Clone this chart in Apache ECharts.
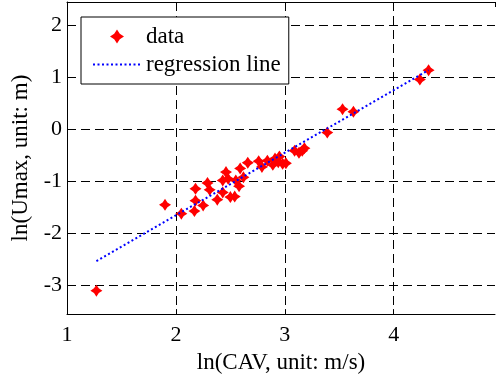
<!DOCTYPE html>
<html><head><meta charset="utf-8">
<script src="https://cdn.jsdelivr.net/npm/echarts@6/dist/echarts.min.js"></script>
<style>html,body{margin:0;padding:0;background:#fff}#c{width:496px;height:379px}</style>
</head><body><div id="c"></div>
<script>
var dataX = [1.27,1.90,2.05,2.17,2.18,2.18,2.25,2.29,2.31,2.38,2.43,2.43,2.46,2.48,2.50,2.54,2.55,2.58,2.59,2.62,2.66,2.76,2.79,2.84,2.89,2.91,2.94,2.95,2.98,3.01,3.09,3.13,3.16,3.18,3.39,3.53,3.63,4.24,4.32];
var dataY = [-3.10,-1.45,-1.62,-1.57,-1.37,-1.14,-1.46,-1.03,-1.16,-1.35,-1.21,-0.98,-0.82,-0.95,-1.30,-1.29,-0.98,-1.09,-0.75,-0.92,-0.64,-0.61,-0.72,-0.60,-0.68,-0.56,-0.63,-0.52,-0.66,-0.65,-0.41,-0.45,-0.41,-0.36,-0.06,0.39,0.34,0.96,1.14];
var regX = [1.27, 4.32];
var regY = [-2.53, 1.14];
var xTicks = ['1','2','3','4'];
var yTicks = ['-3','-2','-1','0','1','2'];

var font = 'Liberation Serif';
var star = 'path://M0,-5 L2,-2 L5,0 L2,2 L0,5 L-2,2 L-5,0 L-2,-2 Z';
var chart = echarts.init(document.getElementById('c'), null, {renderer:'canvas'});
var dash = {color:'#000', type:[9,5], width:1};
chart.setOption({
  animation:false,
  backgroundColor:'#fff',
  grid:{left:67, right:1, top:2, bottom:64, containLabel:false},
  legend:{
    orient:'vertical', left:81, top:17,
    padding:[8,8,8,11], itemGap:5,
    itemWidth:48, itemHeight:14,
    borderColor:'#000', borderWidth:1, backgroundColor:'#fff',
    textStyle:{fontFamily:font, fontSize:23, color:'#000'},
    data:[{name:'data', icon:star, itemStyle:{opacity:1}},{name:'regression line', itemStyle:{opacity:0}}]
  },
  xAxis:[{
    type:'value', min:1, max:4.93,
    name:'ln(CAV, unit: m/s)', nameLocation:'middle', nameGap:34,
    nameTextStyle:{fontFamily:font, fontSize:23, color:'#000'},
    axisLine:{show:true, onZero:false, lineStyle:{color:'#000', width:1}},
    axisTick:{show:true, inside:true, length:5, lineStyle:{color:'#000'}},
    axisLabel:{fontFamily:font, fontSize:22, color:'#000', margin:10, showMaxLabel:false,
      formatter:function(v){var s=String(v); return xTicks.indexOf(s)>=0?s:'';}},
    splitLine:{show:true, showMinLine:false, showMaxLine:false, lineStyle:dash}
  },{
    type:'value', position:'top', min:1, max:4.93,
    axisLine:{show:true, onZero:false, lineStyle:{color:'#000', width:1}},
    axisTick:{show:true, inside:true, length:5, lineStyle:{color:'#000'}},
    axisLabel:{show:false}, splitLine:{show:false}
  }],
  yAxis:{
    type:'value', min:-3.55, max:2.45, splitNumber:6,
    name:'ln(Umax, unit: m)', nameLocation:'middle', nameGap:30,
    nameTextStyle:{fontFamily:font, fontSize:23, color:'#000'},
    axisLine:{show:true, onZero:false, lineStyle:{color:'#000', width:1}},
    axisTick:{show:true, inside:true, length:5, lineStyle:{color:'#000'}},
    axisLabel:{fontFamily:font, fontSize:22, color:'#000', margin:5, showMinLabel:false, showMaxLabel:false,
      formatter:function(v){var s=String(v); return yTicks.indexOf(s)>=0?s:'';}},
    splitLine:{show:true, showMinLine:false, showMaxLine:false, lineStyle:dash}
  },
  series:[{
    name:'data', type:'scatter', symbol:star, symbolSize:12,
    itemStyle:{color:'#ff0000', opacity:1},
    data:dataX.map(function(x,i){return [x,dataY[i]];}),
    z:3
  },{
    name:'regression line', type:'line', showSymbol:false, symbol:'none',
    lineStyle:{color:'#0000ff', width:2, type:[2,2.5]},
    itemStyle:{color:'#0000ff'},
    data:regX.map(function(x,i){return [x,regY[i]];}),
    z:4
  }]
});
</script></body></html>
